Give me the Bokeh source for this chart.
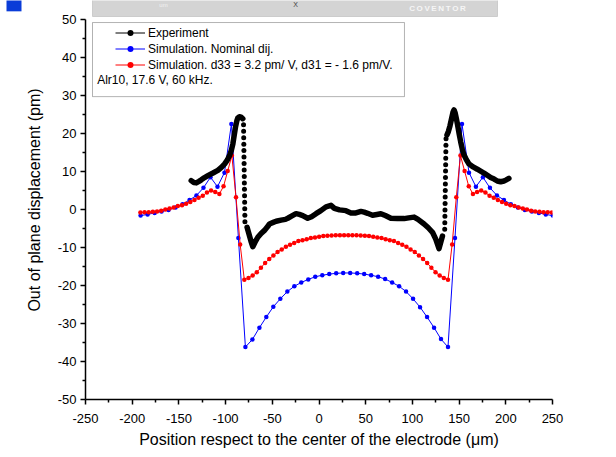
from bokeh.plotting import figure
from bokeh.models import Range1d, Label, BoxAnnotation, Legend, LegendItem, FixedTicker, Title
from bokeh.embed import file_html
from bokeh.resources import INLINE

# ---------------- data ----------------
# Simulation, nominal dij (blue)
nom_x = [-191.0, -183.5, -176.0, -168.6, -161.1, -153.6, -146.1, -138.6, -131.2, -123.7,
         -116.2, -108.7, -101.2, -93.8, -86.3, -78.8, -71.3, -63.8, -56.4, -48.9,
         -41.4, -33.9, -26.4, -19.0, -11.5, -4.0, 3.5, 11.0, 18.4, 25.9,
         33.4, 40.9, 48.4, 55.8, 63.3, 70.8, 78.3, 85.8, 93.2, 100.7,
         108.2, 115.7, 123.2, 130.6, 138.1, 145.6, 153.1, 160.6, 168.0, 175.5,
         183.0, 190.5, 198.0, 205.4, 212.9, 220.4, 227.9, 235.4, 242.8, 250.3]
nom_y = [-1.6, -1.3, -0.9, -0.5, -0.1, 0.5, 1.4, 2.5, 3.7, 5.7,
         8.5, 6.0, 9.7, 22.5, -7.5, -36.2, -34.2, -31.1, -28.3, -25.6,
         -23.5, -21.6, -20.2, -19.2, -18.4, -17.7, -17.3, -17.0, -16.8, -16.7,
         -16.7, -16.8, -17.0, -17.3, -17.7, -18.3, -19.2, -20.2, -21.6, -23.5,
         -25.7, -28.3, -31.1, -34.1, -36.2, -7.5, 22.5, 9.7, 6.0, 8.5,
         5.7, 3.7, 2.5, 1.4, 0.5, -0.1, -0.5, -0.9, -1.3, -1.6]

# Simulation, d33 = 3.2 pm/V, d31 = -1.6 pm/V (red)
fit_x = [-191.2, -186.75, -182.3, -177.85, -173.4, -168.95, -164.5, -160.05, -155.6, -151.15,
         -146.7, -142.25, -137.8, -133.35, -128.9, -124.45, -120.0, -115.55, -111.1, -106.65,
         -102.2, -97.75, -93.3, -88.85, -84.4, -79.95, -75.5, -71.05, -66.6, -62.15,
         -57.7, -53.25, -48.8, -44.35, -39.9, -35.45, -31.0, -26.55, -22.1, -17.65,
         -13.2, -8.75, -4.3, 0.15, 4.6, 9.05, 13.5, 17.95, 22.4, 26.85,
         31.3, 35.75, 40.2, 44.65, 49.1, 53.55, 58.0, 62.45, 66.9, 71.35,
         75.8, 80.25, 84.7, 89.15, 93.6, 98.05, 102.5, 106.95, 111.4, 115.85,
         120.3, 124.75, 129.2, 133.65, 138.1, 142.55, 147.0, 151.45, 155.9, 160.35,
         164.8, 169.25, 173.7, 178.15, 182.6, 187.05, 191.5, 195.95, 200.4, 204.85,
         209.3, 213.75, 218.2, 222.65, 227.1, 231.55, 236.0, 240.45, 244.9, 249.35]
fit_y = [-0.8, -0.7, -0.7, -0.6, -0.5, -0.3, 0.0, 0.25, 0.5, 0.9,
         1.1, 1.5, 2.0, 2.5, 3.1, 3.6, 4.5, 5.0, 4.6, 4.1,
         6.1, 10.1, 14.2, 3.2, -9.2, -18.5, -18.0, -17.4, -16.5, -15.3,
         -14.1, -13.0, -12.1, -11.2, -10.5, -9.8, -9.3, -8.8, -8.3, -8.1,
         -7.8, -7.5, -7.4, -7.2, -7.0, -6.9, -6.85, -6.8, -6.8, -6.8,
         -6.8, -6.8, -6.8, -6.85, -6.9, -7.0, -7.2, -7.4, -7.5, -7.8,
         -8.1, -8.3, -8.8, -9.3, -9.8, -10.5, -11.2, -12.1, -13.0, -14.1,
         -15.3, -16.5, -17.4, -18.0, -18.5, -9.2, 3.2, 14.2, 10.1, 6.1,
         4.1, 4.6, 5.0, 4.5, 3.6, 3.1, 2.5, 2.0, 1.5, 1.1,
         0.9, 0.5, 0.25, 0.0, -0.3, -0.5, -0.6, -0.7, -0.7, -0.8]

# Experiment (black): dense parts and the sparse (dotted) steep parts
exp_a_x = [-136.8, -134.0, -131.4, -128.5, -126.0, -122.5, -119.0, -113.5, -108.3, -104.5,
           -101.0, -98.2, -95.8, -93.8, -92.2, -90.8, -89.4, -88.0, -86.9, -85.2, -83.3, -81.6]
exp_a_y = [7.6, 7.1, 7.0, 7.4, 7.8, 8.4, 8.9, 9.6, 10.3, 11.1,
           12.0, 13.0, 14.2, 15.6, 17.3, 19.5, 21.7, 23.3, 24.1, 24.4, 24.3, 23.9]
exp_b_x = [-80.8, -80.7, -80.6, -80.5, -80.4, -80.3, -80.2, -80.1, -80.0, -79.9,
           -79.8, -79.7, -79.6, -79.5, -79.4, -79.3]
exp_b_y = [22.3, 20.6, 18.9, 17.2, 15.5, 13.8, 12.1, 10.4, 8.7, 7.0,
           5.3, 3.6, 1.9, 0.2, -1.5, -3.2]
exp_c_x = [-77.0, -75.5, -74.0, -72.5, -70.9, -68.5, -65.5, -62.0, -58.4, -55.0,
           -53.1, -49.0, -45.9, -40.6, -36.0, -33.4, -29.0, -24.6, -21.0, -17.4,
           -12.1, -8.0, -3.2, 2.0, 7.5, 12.8, 16.5, 22.0, 28.8, 34.2,
           39.5, 44.9, 48.4, 52.0, 57.3, 62.0, 66.2, 71.0, 76.9, 84.0,
           91.1, 96.0, 101.8, 106.0, 112.5, 117.0, 121.5, 125.0, 128.5, 130.5, 132.2]
exp_c_y = [-4.7, -6.0, -7.3, -8.6, -9.8, -8.6, -7.3, -6.3, -5.5, -4.5,
           -3.8, -3.4, -3.1, -2.8, -2.6, -2.3, -1.7, -1.1, -1.3, -1.6,
           -2.3, -1.9, -1.1, -0.3, 0.7, 1.1, 0.3, -0.1, -0.3, -0.9,
           -0.9, -0.5, -0.7, -1.0, -1.5, -1.3, -1.1, -1.6, -2.3, -2.4,
           -2.4, -2.2, -2.0, -2.6, -3.8, -4.8, -6.0, -7.8, -10.3, -8.5, -7.0]
exp_d_x = [134.6, 134.7, 134.8, 134.9, 135.0, 135.1, 135.2, 135.3, 135.4, 135.5,
           135.6, 135.7, 135.8, 135.9, 136.0]
exp_d_y = [-5.2, -3.5, -1.8, -0.1, 1.6, 3.3, 5.0, 6.7, 8.4, 10.1,
           11.8, 13.5, 15.2, 16.9, 18.6]
exp_e_x = [137.0, 138.5, 140.2, 142.0, 143.5, 144.6, 145.8, 147.0, 148.2, 150.0,
           151.7, 153.5, 155.2, 158.0, 160.6, 165.0, 169.5, 173.0, 176.6, 180.2,
           183.8, 187.5, 190.9, 194.5, 198.0, 200.5, 203.3]
exp_e_y = [19.6, 20.5, 22.0, 24.0, 25.6, 26.2, 25.4, 24.0, 22.5, 20.0,
           17.8, 15.8, 14.4, 13.0, 12.0, 11.2, 10.6, 10.1, 9.6, 9.0,
           8.4, 8.0, 7.5, 7.3, 7.5, 7.8, 8.2]

x_ticks = [-250, -200, -150, -100, -50, 0, 50, 100, 150, 200, 250]
x_tick_labels = ["-250", "-200", "-150", "-100", "-50", "0", "50", "100", "150", "200", "250"]
y_ticks = [-50, -40, -30, -20, -10, 0, 10, 20, 30, 40, 50]
y_tick_labels = ["-50", "-40", "-30", "-20", "-10", "0", "10", "20", "30", "40", "50"]

legend_labels = ["Experiment", "Simulation. Nominal dij.",
                 "Simulation. d33 = 3.2 pm/ V, d31 = - 1.6 pm/V."]
note_text = "Alr10, 17.6 V, 60 kHz."

FONT = "Liberation Sans"
FRAME_L, FRAME_B = 85, 399   # frame left / bottom on the canvas (px)
PX_X = 467 / 500.0           # px per micron
PX_Y = 3.8                   # px per pm
Y_TOP = 50 + 19 / PX_Y       # frame reaches the top edge of the canvas


def cx(px):   # canvas x (px) -> data x, used only for the screenshot decorations
    return -250 + (px - FRAME_L) / PX_X


def cy(py):   # canvas y (px) -> data y
    return Y_TOP - py / PX_Y


# ---------------- figure ----------------
p = figure(width=616, height=457, output_backend="svg", toolbar_location=None,
           x_range=Range1d(-250, 250), y_range=Range1d(-50, Y_TOP),
           min_border_left=FRAME_L, min_border_right=64, min_border_top=0,
           min_border_bottom=457 - FRAME_B)
p.outline_line_color = None
p.xgrid.visible = False
p.ygrid.visible = False
p.background_fill_color = "white"
p.border_fill_color = "white"

for ax, ticks, labels in ((p.xaxis[0], x_ticks, x_tick_labels),
                          (p.yaxis[0], y_ticks, y_tick_labels)):
    ax.ticker = FixedTicker(ticks=ticks,
                            minor_ticks=[(a + b) / 2 for a, b in zip(ticks[:-1], ticks[1:])])
    ax.major_label_overrides = {t: s for t, s in zip(ticks, labels)}
    ax.axis_line_color = "black"
    ax.axis_line_width = 1.5
    ax.major_tick_line_color = "black"
    ax.major_tick_line_width = 1.5
    ax.minor_tick_line_color = "black"
    ax.minor_tick_line_width = 1.5
    ax.major_tick_in = 0
    ax.major_tick_out = 5
    ax.minor_tick_in = 0
    ax.minor_tick_out = 3
    ax.major_label_text_font = FONT
    ax.major_label_text_font_size = "13px"
    ax.major_label_text_color = "black"
    ax.axis_label_text_font = FONT
    ax.axis_label_text_font_size = "16px"
    ax.axis_label_text_font_style = "normal"
    ax.axis_label_text_color = "black"
p.yaxis.bounds = (-50, 50)

p.xaxis.axis_label = "Position respect to the center of the electrode (\u03bcm)"
p.yaxis.axis_label = "Out of plane displacement (pm)"
p.xaxis.major_label_standoff = 9
p.xaxis.axis_label_standoff = 5
p.yaxis.major_label_standoff = 4
p.yaxis.axis_label_standoff = 12

# ---------------- screenshot decorations above the plot ----------------
p.add_layout(BoxAnnotation(left=cx(92), right=cx(497), top=cy(-2), bottom=cy(16),
                           fill_color="#d4d4d4", fill_alpha=1,
                           line_color="#8a8a8a", line_width=1, level="underlay"))
p.add_layout(Label(x=cx(163), y=cy(4), text="um", text_font=FONT, text_font_size="6px",
                   text_color="#f2f2f2", text_baseline="middle", text_align="center"))
p.add_layout(Label(x=cx(295), y=cy(4), text="X", text_font=FONT, text_font_size="7px",
                   text_color="#404040", text_baseline="middle", text_align="center"))
p.add_layout(Label(x=cx(437), y=cy(7.5),
                   text="C\u2009O\u2009V\u2009E\u2009N\u2009T\u2009O\u2009R",
                   text_font=FONT, text_font_size="8px", text_font_style="bold",
                   text_color="#f6f6f6", text_baseline="middle", text_align="center"))
p.add_layout(Title(text="\u00a0\u00a0\u00a0", align="right", text_font_size="13px",
                   background_fill_color="#0a3cd8", standoff=2, offset=0), "left")

# ---------------- series ----------------
nom_line = p.line(nom_x, nom_y, line_color="#0000ff", line_width=1)
nom_pts = p.scatter(nom_x, nom_y, size=4.5, fill_color="#0000ff", line_color=None)
fit_line = p.line(fit_x, fit_y, line_color="#ff0000", line_width=1)
fit_pts = p.scatter(fit_x, fit_y, size=4.5, fill_color="#ff0000", line_color=None)

for xs, ys in ((exp_a_x, exp_a_y), (exp_c_x, exp_c_y), (exp_e_x, exp_e_y)):
    p.line(xs, ys, line_color="black", line_width=5.5, line_join="round", line_cap="round")
exp_pts = None
for xs, ys in ((exp_b_x, exp_b_y), (exp_d_x, exp_d_y)):
    exp_pts = p.scatter(xs, ys, size=5, fill_color="black", line_color=None)
exp_thin = p.line([float("nan")], [float("nan")], line_color="black", line_width=1)

# ---------------- legend ----------------
leg_items = [LegendItem(label=legend_labels[0], renderers=[exp_thin, exp_pts]),
             LegendItem(label=legend_labels[1], renderers=[nom_line, nom_pts]),
             LegendItem(label=legend_labels[2], renderers=[fit_line, fit_pts])]
legend = Legend(items=leg_items, location=(30, 327), orientation="vertical",
                glyph_width=30, glyph_height=15, label_height=15, spacing=1,
                label_standoff=3, padding=0, margin=0,
                label_text_font=FONT, label_text_font_size="12px", label_text_color="black",
                border_line_alpha=0, background_fill_alpha=0)
p.add_layout(legend)

p.add_layout(BoxAnnotation(left=-242.5, right=91.5, top=49.2, bottom=29.7,
                           fill_alpha=0, line_color="black", line_width=1))
p.add_layout(Label(x=-237.5, y=34.0, text=note_text, text_font=FONT, text_font_size="12px",
                   text_color="black", text_baseline="middle"))

open("out.html", "w").write(file_html(p, INLINE))
